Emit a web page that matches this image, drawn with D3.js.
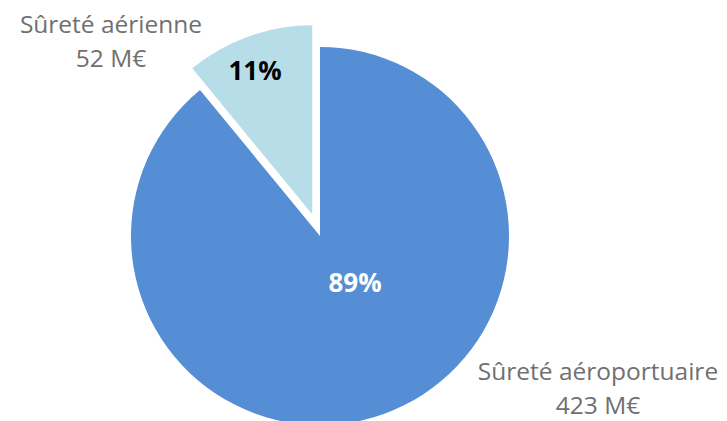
<!DOCTYPE html>
<html>
<head>
<meta charset="utf-8">
<script src="https://cdn.jsdelivr.net/npm/d3@7"></script>
<style>
  html, body { margin: 0; padding: 0; background: #fff; }
  svg { display: block; }
</style>
</head>
<body>
<svg id="chart" width="727" height="421"></svg>
<script>
const categories = ["Sûreté aéroportuaire", "Sûreté aérienne"];
const values = [423, 52];
const valueLabels = ["423 M€", "52 M€"];
const percentLabels = ["89%", "11%"];

const colors = ["#558ED5", "#B7DDE8"];
const pctColors = ["#ffffff", "#000000"];

const svg = d3.select("#chart");
const cx = 320, cy = 236, r = 189, explode = [0, 23];

const pie = d3.pie().sort(null).value(d => d)(values);
const arc = d3.arc().innerRadius(0).outerRadius(r);

const g = svg.append("g").attr("transform", `translate(${cx},${cy})`);

g.selectAll("path.slice")
  .data(pie)
  .join("path")
  .attr("class", "slice")
  .attr("fill", (d, i) => colors[i])
  .attr("transform", (d, i) => {
    const a = (d.startAngle + d.endAngle) / 2;
    return `translate(${Math.sin(a) * explode[i]},${-Math.cos(a) * explode[i]})`;
  })
  .attr("d", arc);

// percent labels
const pctPos = [[355, 292], [255, 80]];
svg.selectAll("text.pct")
  .data(pie)
  .join("text")
  .attr("class", "pct")
  .attr("x", (d, i) => pctPos[i][0])
  .attr("y", (d, i) => pctPos[i][1])
  .attr("text-anchor", "middle")
  .attr("font-family", "'Open Sans', sans-serif")
  .attr("font-weight", "bold")
  .attr("font-size", "26px")
  .attr("fill", (d, i) => pctColors[i])
  .text((d, i) => percentLabels[i]);

// category labels
const catPos = [[598, 380], [111, 33]];
const lab = svg.selectAll("text.cat")
  .data(pie)
  .join("text")
  .attr("class", "cat")
  .attr("text-anchor", "middle")
  .attr("font-family", "'Open Sans', sans-serif")
  .attr("font-size", "24.5px")
  .attr("fill", "#707070");
lab.append("tspan")
  .attr("x", (d, i) => catPos[i][0])
  .attr("y", (d, i) => catPos[i][1])
  .text((d, i) => categories[i]);
lab.append("tspan")
  .attr("x", (d, i) => catPos[i][0])
  .attr("y", (d, i) => catPos[i][1] + 34)
  .text((d, i) => valueLabels[i]);
</script>
</body>
</html>
